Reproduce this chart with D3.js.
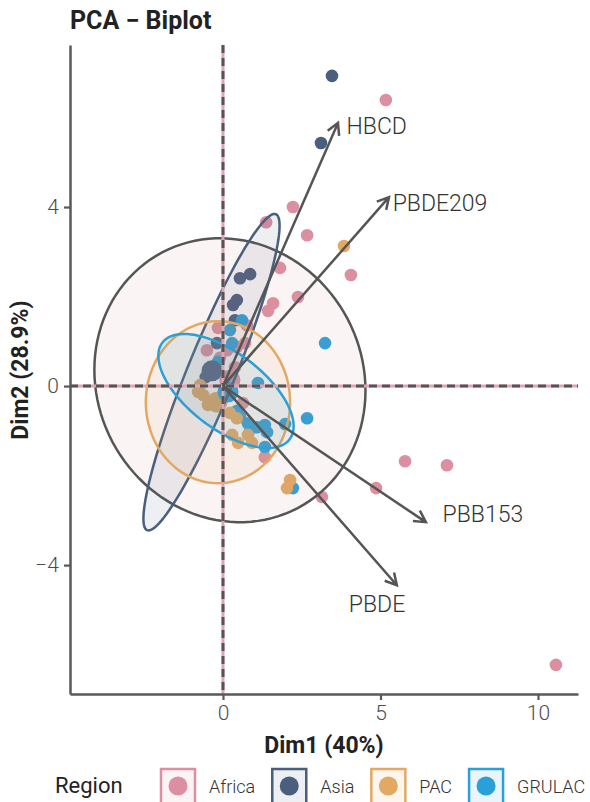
<!DOCTYPE html>
<html><head><meta charset="utf-8">
<script src="https://cdn.jsdelivr.net/npm/d3@7"></script>
<style>
body{margin:0;background:#fff}
svg{display:block}
text{font-family:Roboto,"Noto Sans",sans-serif}
</style>
</head><body>
<svg id="chart" width="590" height="802"></svg>
<script>
// ---------- data ----------
const regions = ["Africa", "Asia", "PAC", "GRULAC"];
const regionColors = ["#dc8fa0", "#4a5e7d", "#e1a962", "#2aa0d8"];

const africaX = [5.17, 2.22, 1.37, 2.67, 1.81, 4.06, 2.38, 1.59, 1.43, 0.76, 5.78, 7.11, 4.86, 3.14, 10.57, 1.33, -0.16, 0.44, 0.13, -0.51, -0.10, 0.38, 0.63, 0.70, 0.86];
const africaY = [6.39, 4.00, 3.66, 3.37, 2.64, 2.48, 1.99, 1.85, 1.68, 1.36, -1.68, -1.77, -2.28, -2.48, -6.23, -1.59, 1.30, 0.87, 0.80, 0.80, 0.63, 0.42, -0.38, 0.96, -0.98];

const asiaX = [3.46, 3.11, 0.86, 0.54, 0.44, 0.32, 0.38, -0.19, -0.55];
const asiaY = [6.93, 5.43, 2.50, 2.41, 1.92, 1.81, 1.47, 0.96, 0.20];

const grulacX = [3.24, 2.67, 1.11, 1.97, 0.60, 0.29, 0.22, -0.16, 0.54, 0.79, 1.08, 1.33, 1.40, 1.33, 2.22, 0.45];
const grulacY = [0.96, -0.72, 0.07, -0.85, 1.47, 0.96, 1.25, 0.54, -0.69, -0.83, -0.92, -0.87, -1.03, -1.36, -2.28, -0.55];

const pacX = [3.84, 2.13, 2.03, -0.73, -0.63, -0.48, -0.79, 0.22, 0.44, 0.29, 0.79, 0.92, 0.48];
const pacY = [3.13, -2.10, -2.28, 0.02, -0.20, -0.42, -0.13, -0.60, -0.72, -1.09, -1.09, -1.27, -1.27];

// group means (drawn larger)
const meanX = [0.22, -0.35, -0.19, 0.16];
const meanY = [0.13, 0.34, -0.36, -0.13];

// concentration ellipses: centre and two conjugate semi-axis vectors (data units)
const ellCx = [0.22, -0.365, -0.16, 0.095];
const ellCy = [0.13, 0.31, -0.36, -0.11];
const ellUx = [4.28, 2.045, 2.29, 2.02];
const ellUy = [0.10, 3.53, 0.00, -1.08];
const ellVx = [-0.45, 0.70, 0.00, -0.73];
const ellVy = [3.17, -0.21, 1.81, -0.675];

// variable loadings (arrows)
const varNames = ["HBCD", "PBDE209", "PBB153", "PBDE"];
const varX = [3.65, 5.27, 6.44, 5.52];
const varY = [5.88, 4.22, -3.04, -4.45];
const varLabelX = [4.88, 6.89, 8.25, 4.89];
const varLabelY = [5.79, 4.07, -2.88, -4.87];

const xTicks = [0, 5, 10];
const yTicks = [-4, 0, 4];
const xDomain = [-4.857, 11.27];
const yDomain = [-6.88, 7.62];

// ---------- drawing ----------
const svg = d3.select("#chart");
const x = d3.scaleLinear().domain(xDomain).range([70, 578]);
const y = d3.scaleLinear().domain(yDomain).range([694, 45]);
const axisCol = "#595959";

const pointSets = [
  {x: africaX, y: africaY, c: 0},
  {x: asiaX, y: asiaY, c: 1},
  {x: grulacX, y: grulacY, c: 3},
  {x: pacX, y: pacY, c: 2}
];
const gPts = svg.append("g");
pointSets.forEach(s => {
  gPts.selectAll(null).data(d3.range(s.x.length)).enter().append("circle")
    .attr("cx", i => x(s.x[i])).attr("cy", i => y(s.y[i])).attr("r", 6.3)
    .attr("fill", regionColors[s.c]);
});
gPts.selectAll(null).data(d3.range(meanX.length)).enter().append("circle")
  .attr("cx", i => x(meanX[i])).attr("cy", i => y(meanY[i])).attr("r", 10.5)
  .attr("fill", i => regionColors[i]);

// ellipses
const gEll = svg.append("g");
const tt = d3.range(0, 361, 3).map(d => d * Math.PI / 180);
regions.forEach((r, i) => {
  const pts = tt.map(t => [
    x(ellCx[i] + ellUx[i] * Math.cos(t) + ellVx[i] * Math.sin(t)),
    y(ellCy[i] + ellUy[i] * Math.cos(t) + ellVy[i] * Math.sin(t))
  ]);
  gEll.append("path").attr("d", d3.line()(pts) + "Z")
    .attr("fill", regionColors[i]).attr("fill-opacity", 0.1)
    .attr("stroke", i === 0 ? "#555555" : regionColors[i]).attr("stroke-width", 2.5);
});

// reference lines
const gRef = svg.append("g");
[[x(0), y(yDomain[1]), x(0), y(yDomain[0])], [x(xDomain[0]), y(0), x(xDomain[1]), y(0)]].forEach(l => {
  gRef.append("line").attr("x1", l[0]).attr("y1", l[1]).attr("x2", l[2]).attr("y2", l[3])
    .attr("stroke", "#e3a3b0").attr("stroke-width", 3);
  gRef.append("line").attr("x1", l[0]).attr("y1", l[1]).attr("x2", l[2]).attr("y2", l[3])
    .attr("stroke", "#555555").attr("stroke-width", 3).attr("stroke-dasharray", "8,5");
});

// axes
const gx = svg.append("g").attr("transform", "translate(0,694)")
  .call(d3.axisBottom(x).tickValues(xTicks).tickSize(6).tickSizeOuter(0).tickPadding(5));
const gy = svg.append("g").attr("transform", "translate(70,0)")
  .call(d3.axisLeft(y).tickValues(yTicks).tickSize(6).tickSizeOuter(0).tickPadding(5));
[gx, gy].forEach(g => {
  g.select(".domain").attr("stroke", axisCol).attr("stroke-width", 2.5);
  g.selectAll(".tick line").attr("stroke", axisCol).attr("stroke-width", 2.2);
  g.selectAll(".tick text").attr("fill", "#4d4d4d").style("font-size", "21px")
    .style("font-weight", 300).style("font-family", "Roboto");
});

// arrows
const gArr = svg.append("g");
varNames.forEach((n, i) => {
  const x0 = x(0), y0 = y(0), x1 = x(varX[i]), y1 = y(varY[i]);
  const a = Math.atan2(y1 - y0, x1 - x0), L = 13, w = 0.5;
  const p = `M${x0},${y0}L${x1},${y1}M${x1 - L * Math.cos(a - w)},${y1 - L * Math.sin(a - w)}L${x1},${y1}L${x1 - L * Math.cos(a + w)},${y1 - L * Math.sin(a + w)}`;
  gArr.append("path").attr("d", p).attr("fill", "none").attr("stroke", "#555555")
    .attr("stroke-width", 2.5).attr("stroke-linejoin", "miter");
  gArr.append("text").attr("x", x(varLabelX[i])).attr("y", y(varLabelY[i]))
    .attr("text-anchor", "middle").attr("dominant-baseline", "central")
    .attr("fill", "#333333").style("font-size", "23px").style("font-weight", 300)
    .text(n);
});

// titles
svg.append("text").attr("x", 70).attr("y", 29).attr("fill", "#222")
  .style("font-size", "25px").style("font-weight", 700).text("PCA \u2212 Biplot");
svg.append("text").attr("x", 324).attr("y", 753).attr("text-anchor", "middle").attr("fill", "#222")
  .style("font-size", "23px").style("font-weight", 700).text("Dim1 (40%)");
svg.append("text").attr("transform", "translate(28,370) rotate(-90)").attr("text-anchor", "middle")
  .attr("fill", "#222").style("font-size", "23px").style("font-weight", 700).text("Dim2 (28.9%)");

// legend
const gLeg = svg.append("g");
gLeg.append("text").attr("x", 55).attr("y", 785).attr("dominant-baseline", "central")
  .attr("fill", "#222").style("font-size", "22px").text("Region");
let lx = 160;
regions.forEach((r, i) => {
  gLeg.append("rect").attr("x", lx + 1).attr("y", 769).attr("width", 34).attr("height", 40)
    .attr("fill", regionColors[i]).attr("fill-opacity", 0.1)
    .attr("stroke", regionColors[i]).attr("stroke-width", 2.5);
  gLeg.append("circle").attr("cx", lx + 18).attr("cy", 786).attr("r", 9.5).attr("fill", regionColors[i]);
  const t = gLeg.append("text").attr("x", lx + 49).attr("y", 786).attr("dominant-baseline", "central")
    .attr("fill", "#333").style("font-size", "18px").style("font-weight", 300).text(r);
  lx = lx + 49 + t.node().getComputedTextLength() + 16;
});
</script>
</body></html>
